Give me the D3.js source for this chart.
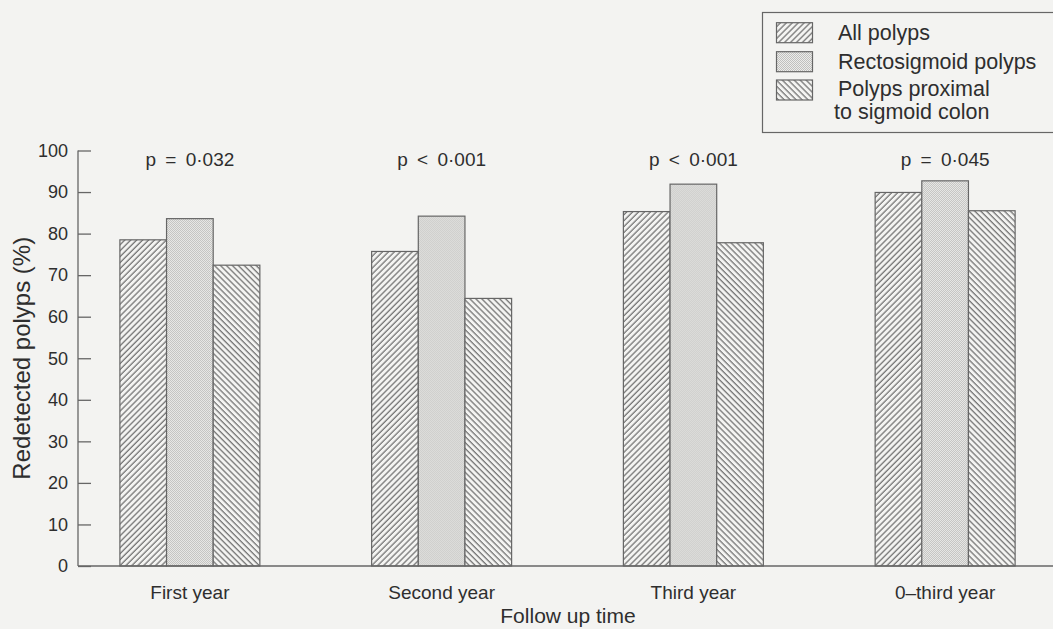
<!DOCTYPE html>
<html>
<head>
<meta charset="utf-8">
<script src="https://cdn.jsdelivr.net/npm/d3@7"></script>
<style>
  html, body { margin: 0; padding: 0; background: #f3f3f1; }
  svg { display: block; }
  text { font-family: "Liberation Sans", Arial, Helvetica, sans-serif; fill: #2e2e2e; }
</style>
</head>
<body>
<svg id="chart" width="1053" height="629"></svg>
<script>
// Follow-up periods and the redetection rate (%) for each polyp group
const categories = ["First year", "Second year", "Third year", "0\u2013third year"];
const seriesKeys = ["all", "recto", "proximal"];
const allPolyps = [78.5, 75.7, 85.3, 89.9];
const rectosigmoidPolyps = [83.6, 84.2, 91.9, 92.7];
const proximalPolyps = [72.4, 64.4, 77.8, 85.5];
const pValues = ["p = 0\u00b7032", "p < 0\u00b7001", "p < 0\u00b7001", "p = 0\u00b7045"];
const yTicks = [0, 10, 20, 30, 40, 50, 60, 70, 80, 90, 100];
const legendLabels = [["All polyps"], ["Rectosigmoid polyps"], ["Polyps proximal", "to sigmoid colon"]];
const xTitle = "Follow up time";
const yTitle = "Redetected polyps (%)";

const seriesValues = { all: allPolyps, recto: rectosigmoidPolyps, proximal: proximalPolyps };
const rows = categories.map((c, i) => ({
  category: c,
  p: pValues[i],
  values: seriesKeys.map(k => ({ key: k, value: seriesValues[k][i] }))
}));

const svg = d3.select("#chart");
const ink = "#666";

// Fill patterns: forward hatch, fine stipple, backward hatch
const defs = svg.append("defs");
function hatch(id, angle) {
  const p = defs.append("pattern")
    .attr("id", id).attr("patternUnits", "userSpaceOnUse")
    .attr("width", 4.2).attr("height", 4.2)
    .attr("patternTransform", `rotate(${angle})`);
  p.append("rect").attr("width", 4.2).attr("height", 4.2).attr("fill", "#f4f4f2");
  p.append("line").attr("x1", 1).attr("x2", 1).attr("y1", 0).attr("y2", 4.2)
    .attr("stroke", "#707070").attr("stroke-width", 1.25);
}
hatch("fill-all", 45);
hatch("fill-proximal", -45);
const dots = defs.append("pattern")
  .attr("id", "fill-recto").attr("patternUnits", "userSpaceOnUse")
  .attr("width", 2).attr("height", 2);
dots.append("rect").attr("width", 2).attr("height", 2).attr("fill", "#ececea");
dots.append("rect").attr("width", 1).attr("height", 1).attr("fill", "#c0c0be");
dots.append("rect").attr("x", 1).attr("y", 1).attr("width", 1).attr("height", 1).attr("fill", "#c0c0be");

const fills = { all: "url(#fill-all)", recto: "url(#fill-recto)", proximal: "url(#fill-proximal)" };

// Scales
const y = d3.scaleLinear().domain([0, 100]).range([566, 150.5]);
const x0 = d3.scaleBand().domain(categories).range([64, 1071])
  .paddingInner(0.444).paddingOuter(0.222);
const x1 = d3.scaleBand().domain(seriesKeys).range([0, x0.bandwidth()]);

// Y axis with inward ticks
const yAxis = svg.append("g")
  .attr("transform", "translate(78,0)")
  .call(d3.axisLeft(y).tickValues(yTicks).tickSize(-13).tickPadding(10).tickFormat(d3.format("d")));
yAxis.select(".domain").attr("stroke", ink).attr("stroke-width", 1.3).attr("d", `M0,${y(100)}V${y(0)}`);
yAxis.selectAll(".tick line").attr("stroke", ink).attr("stroke-width", 1.3);
yAxis.selectAll(".tick text")
  .attr("x", -10)
  .style("font-family", "'Liberation Sans', Arial, sans-serif")
  .style("font-size", "18px").attr("fill", "#2e2e2e");

// Bars
const groups = svg.append("g").selectAll("g").data(rows).join("g")
  .attr("transform", d => `translate(${x0(d.category)},0)`);
groups.selectAll("rect").data(d => d.values).join("rect")
  .attr("x", d => x1(d.key))
  .attr("y", d => y(d.value))
  .attr("width", x1.bandwidth())
  .attr("height", d => y(0) - y(d.value))
  .attr("fill", d => fills[d.key])
  .attr("stroke", ink).attr("stroke-width", 1.2);

// Significance labels above each group
groups.append("text")
  .attr("x", x0.bandwidth() / 2).attr("y", 166)
  .attr("text-anchor", "middle")
  .style("font-size", "19px").style("word-spacing", "4px")
  .text(d => d.p);

// X axis line and category labels
const xAxis = svg.append("g")
  .attr("transform", `translate(0,${y(0)})`)
  .call(d3.axisBottom(x0).tickSize(0).tickPadding(20));
xAxis.select(".domain").attr("stroke", ink).attr("stroke-width", 1.3).attr("d", "M78,0H1053");
xAxis.selectAll(".tick text")
  .style("font-family", "'Liberation Sans', Arial, sans-serif")
  .style("font-size", "19px").attr("fill", "#2e2e2e")
  .attr("dy", "0.71em");

// Axis titles
svg.append("text")
  .attr("x", 568).attr("y", 623)
  .attr("text-anchor", "middle")
  .style("font-size", "21px")
  .text(xTitle);
svg.append("text")
  .attr("transform", `translate(30,${(y(0) + y(100)) / 2}) rotate(-90)`)
  .attr("text-anchor", "middle")
  .style("font-size", "24px")
  .text(yTitle);

// Legend
const legend = svg.append("g");
legend.append("rect")
  .attr("x", 762.5).attr("y", 12.5).attr("width", 300).attr("height", 120)
  .attr("fill", "none").attr("stroke", ink).attr("stroke-width", 1.2);
const swatchY = [22.7, 51.7, 80];
const textY = [[40], [68.5], [96, 119]];
seriesKeys.forEach((k, i) => {
  legend.append("rect")
    .attr("x", 776.5).attr("y", swatchY[i]).attr("width", 36).attr("height", 20)
    .attr("fill", fills[k]).attr("stroke", ink).attr("stroke-width", 1.2);
  legendLabels[i].forEach((line, j) => {
    legend.append("text")
      .attr("x", j === 0 ? 838 : 834).attr("y", textY[i][j])
      .style("font-size", "21.5px")
      .text(line);
  });
});
</script>
</body>
</html>
